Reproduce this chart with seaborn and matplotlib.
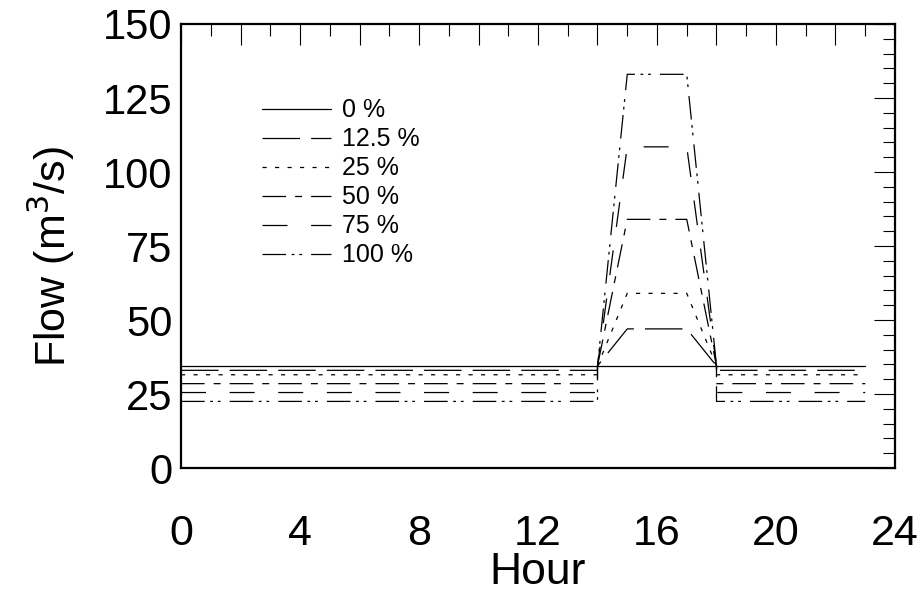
import matplotlib
matplotlib.use("Agg")
import matplotlib.pyplot as plt
import pandas as pd
import seaborn as sns
from matplotlib.ticker import MultipleLocator, FuncFormatter
from matplotlib.lines import Line2D

# Peaking scenarios: share of the daily volume moved into the 15-17 h window
scenarios = ["0 %", "12.5 %", "25 %", "50 %", "75 %", "100 %"]
base_flow = [34.5, 33.0, 31.5, 28.5, 25.5, 22.5]     # off-peak release (m3/s)
peak_flow = [34.5, 47.0, 59.0, 84.0, 108.5, 133.0]   # release during the peak (m3/s)
natural_flow = 34.5                                   # flow at the switch-over hours

hours_before = list(range(0, 15))   # 0..14 h at off-peak release
hours_peak = [14, 15, 16, 17, 18]   # ramp up, plateau, ramp down
hours_after = list(range(18, 24))   # 18..23 h back at off-peak release

# Dash patterns in points (on, off, ...)
dash_styles = {
    "0 %": "",
    "12.5 %": (27, 8),
    "25 %": (3, 6),
    "50 %": (17, 6.5, 5, 6.5),
    "75 %": (18, 17),
    "100 %": (17, 4, 2, 3.5, 2, 6.5),
}

rows = []
for name, qb, qp in zip(scenarios, base_flow, peak_flow):
    seq = 0
    for h in hours_before:
        rows.append((name, seq, h, qb)); seq += 1
    for h in hours_peak:
        q = natural_flow if h in (14, 18) else qp
        rows.append((name, seq, h, q)); seq += 1
    for h in hours_after:
        rows.append((name, seq, h, qb)); seq += 1
df = pd.DataFrame(rows, columns=["scenario", "seq", "hour", "flow"])

sns.set_theme(style="white")
plt.rcParams["font.family"] = ["Liberation Sans", "DejaVu Sans"]
plt.rcParams["lines.scale_dashes"] = False
plt.rcParams["text.color"] = "black"
plt.rcParams["axes.labelcolor"] = "black"
plt.rcParams["xtick.color"] = "black"
plt.rcParams["ytick.color"] = "black"

fig = plt.figure(figsize=(9.24, 5.94), dpi=100)
ax = fig.add_axes([0.1959, 0.2121, 0.7727, 0.7475])

sns.lineplot(
    data=df, x="hour", y="flow", hue="scenario", style="scenario",
    palette=["black"] * len(scenarios), dashes=dash_styles,
    units="scenario", estimator=None, sort=False,
    linewidth=0.9, legend=False, ax=ax,
)

ax.set_xlim(0, 24)
ax.set_ylim(0, 150)
ax.xaxis.set_major_locator(MultipleLocator(2))
ax.xaxis.set_minor_locator(MultipleLocator(1))
ax.xaxis.set_major_formatter(FuncFormatter(lambda v, p: f"{int(v)}" if int(v) % 4 == 0 else ""))
ax.yaxis.set_major_locator(MultipleLocator(25))
ax.yaxis.set_minor_locator(MultipleLocator(5))

ax.tick_params(which="both", direction="in", top=True, right=True,
               color="black", width=0.8)
ax.tick_params(which="major", length=15)
ax.tick_params(which="minor", length=8.5)
ax.tick_params(axis="y", which="major", labelsize=30, pad=6)
ax.tick_params(axis="x", which="major", labelsize=31, pad=33)

for sp in ax.spines.values():
    sp.set_color("black")
    sp.set_linewidth(1.6)

ax.set_xlabel("Hour", fontsize=32, labelpad=-1.5)
ax.set_ylabel("Flow (m$^3$/s)", fontsize=31)
ax.yaxis.set_label_coords(-0.146, 0.475)

handles = [Line2D([], [], color="black", linewidth=0.9,
                  linestyle="-" if dash_styles[s] == "" else (0, dash_styles[s]))
           for s in scenarios]
ax.legend(handles, scenarios, loc="upper left", bbox_to_anchor=(0.1, 0.855),
          frameon=False, fontsize=18, handlelength=2.75, handletextpad=0.42,
          labelspacing=0.2, borderaxespad=0)

fig.savefig("out.png", dpi=100)
